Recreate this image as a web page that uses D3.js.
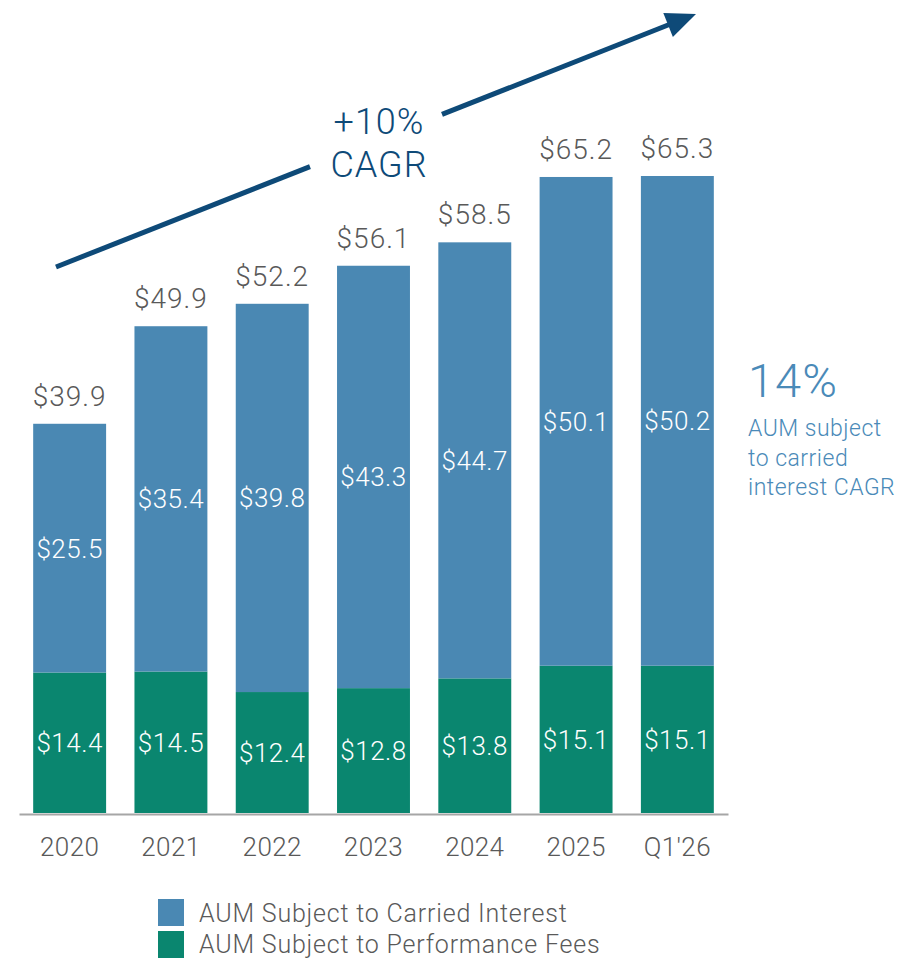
<!DOCTYPE html>
<html>
<head>
<meta charset="utf-8">
<script src="https://cdn.jsdelivr.net/npm/d3@7"></script>
<style>
  html, body { margin: 0; padding: 0; background: #ffffff; }
  svg { display: block; font-family: Roboto, "Liberation Sans", sans-serif; }
</style>
</head>
<body>
<svg id="chart" width="917" height="959"></svg>
<script>
const categories = ["2020", "2021", "2022", "2023", "2024", "2025", "Q1'26"];
const carriedInterest = [25.5, 35.4, 39.8, 43.3, 44.7, 50.1, 50.2];
const performanceFees = [14.4, 14.5, 12.4, 12.8, 13.8, 15.1, 15.1];
const totals = [39.9, 49.9, 52.2, 56.1, 58.5, 65.2, 65.3];
const seriesNames = ["AUM Subject to Carried Interest", "AUM Subject to Performance Fees"];
const cagrLabel = ["+10%", "CAGR"];
const sideValue = "14%";
const sideText = ["AUM subject", "to carried", "interest CAGR"];

const colors = { carried: "#4a88b3", perf: "#0a866f", arrow: "#0e4a78", label: "#595959", side: "#4a8ab8", axis: "#a6a6a6" };

const svg = d3.select("#chart");
const baseY = 813;

const x = d3.scaleBand().domain(categories).range([19, 728]).paddingInner(0.28).paddingOuter(0.14);
const y = d3.scaleLinear().domain([0, 65.3]).range([baseY, 176]);

const rows = categories.map((c, i) => ({ cat: c, perf: performanceFees[i], carried: carriedInterest[i], total: totals[i] }));
const stack = d3.stack().keys(["perf", "carried"])(rows);

const g = svg.append("g");
const fills = { perf: colors.perf, carried: colors.carried };
stack.forEach(layer => {
  g.selectAll(null).data(layer).enter().append("rect")
    .attr("x", d => x(d.data.cat))
    .attr("width", x.bandwidth())
    .attr("y", d => y(d[1]))
    .attr("height", d => y(d[0]) - y(d[1]))
    .attr("fill", fills[layer.key]);
  g.selectAll(null).data(layer).enter().append("text")
    .attr("x", d => x(d.data.cat) + x.bandwidth() / 2)
    .attr("y", d => (y(d[0]) + y(d[1])) / 2)
    .attr("dy", "0.36em")
    .attr("text-anchor", "middle")
    .attr("fill", "#ffffff")
    .attr("font-size", 26)
    .attr("font-weight", 300)
    .attr("letter-spacing", 0.5)
    .text(d => "$" + d.data[layer.key].toFixed(1));
});

// totals
g.selectAll(null).data(rows).enter().append("text")
  .attr("x", d => x(d.cat) + x.bandwidth() / 2)
  .attr("y", d => y(d.total) - 18)
  .attr("text-anchor", "middle")
  .attr("fill", colors.label)
  .attr("font-size", 28)
  .attr("font-weight", 300)
  .attr("letter-spacing", 1)
  .text(d => "$" + d.total.toFixed(1));

// axis
const axis = svg.append("g").attr("transform", `translate(0,${baseY + 1})`)
  .call(d3.axisBottom(x).tickSize(0).tickSizeOuter(0));
axis.select(".domain").attr("stroke", colors.axis).attr("stroke-width", 2);
axis.selectAll("text")
  .attr("y", 42).attr("dy", 0)
  .attr("fill", colors.label)
  .attr("font-size", 26)
  .attr("font-weight", 300)
  .attr("letter-spacing", 0.4)
  .attr("font-family", "Roboto, 'Liberation Sans', sans-serif");

// CAGR arrow
const p0 = [56, 267], p1 = [696, 14];
const dx = p1[0] - p0[0], dy = p1[1] - p0[1];
const len = Math.hypot(dx, dy);
const ux = dx / len, uy = dy / len;
const atX = xx => [xx, p0[1] + (xx - p0[0]) * dy / dx];
const gapA = atX(310), gapB = atX(442);
const headLen = 30, headHalf = 13;
const hb = [p1[0] - ux * headLen, p1[1] - uy * headLen];
svg.append("line").attr("x1", p0[0]).attr("y1", p0[1]).attr("x2", gapA[0]).attr("y2", gapA[1])
  .attr("stroke", colors.arrow).attr("stroke-width", 5);
svg.append("line").attr("x1", gapB[0]).attr("y1", gapB[1]).attr("x2", hb[0] + ux * 2).attr("y2", hb[1] + uy * 2)
  .attr("stroke", colors.arrow).attr("stroke-width", 5);
svg.append("path")
  .attr("d", `M${p1[0]},${p1[1]} L${hb[0] - uy * headHalf},${hb[1] + ux * headHalf} L${hb[0] + uy * headHalf},${hb[1] - ux * headHalf} Z`)
  .attr("fill", colors.arrow);

svg.append("g").selectAll("text").data(cagrLabel).enter().append("text")
  .attr("x", 379)
  .attr("y", (d, i) => 134 + i * 43)
  .attr("text-anchor", "middle")
  .attr("fill", colors.arrow)
  .attr("font-size", 36)
  .attr("font-weight", 300)
  .attr("letter-spacing", 1)
  .text(d => d);

// side annotation
svg.append("text").attr("x", 748).attr("y", 397)
  .attr("fill", colors.side).attr("font-size", 47).attr("font-weight", 300).attr("letter-spacing", 1).text(sideValue);
svg.append("g").selectAll("text").data(sideText).enter().append("text")
  .attr("x", 748)
  .attr("y", (d, i) => 436 + i * 29.5)
  .attr("fill", colors.side)
  .attr("font-size", 23)
  .attr("font-weight", 300)
  .attr("letter-spacing", 0.5)
  .text(d => d);

// legend
const legend = svg.append("g");
const legendColors = [colors.carried, colors.perf];
seriesNames.forEach((name, i) => {
  legend.append("rect").attr("x", 158).attr("y", 899 + i * 32).attr("width", 26).attr("height", 27).attr("fill", legendColors[i]);
  legend.append("text").attr("x", 199).attr("y", 922 + i * 31)
    .attr("fill", colors.label).attr("font-size", 25).attr("font-weight", 300)
    .attr("letter-spacing", 0.8).text(name);
});
</script>
</body>
</html>
